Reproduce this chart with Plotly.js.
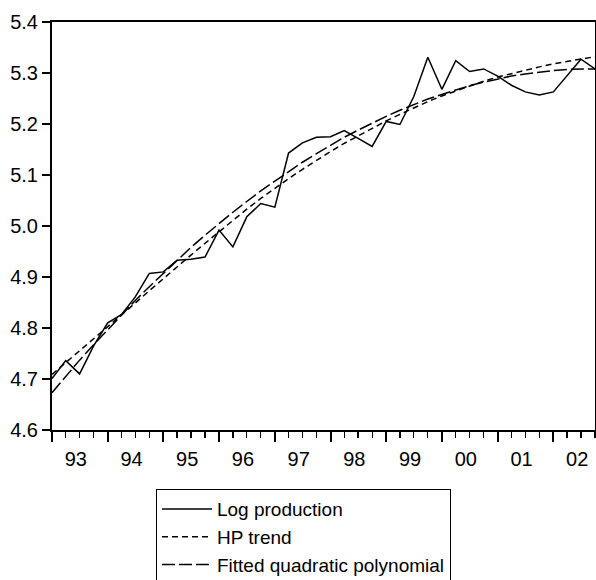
<!DOCTYPE html>
<html>
<head>
<meta charset="utf-8">
<script src="https://cdn.plot.ly/plotly-3.0.1.min.js"></script>
<style>html,body{margin:0;padding:0;background:#fff;}#chart{width:596px;height:580px;}</style>
</head>
<body>
<div id="chart"></div>
<script>
const quarters = [
  '1993Q1','1993Q2','1993Q3','1993Q4','1994Q1','1994Q2','1994Q3','1994Q4',
  '1995Q1','1995Q2','1995Q3','1995Q4','1996Q1','1996Q2','1996Q3','1996Q4',
  '1997Q1','1997Q2','1997Q3','1997Q4','1998Q1','1998Q2','1998Q3','1998Q4',
  '1999Q1','1999Q2','1999Q3','1999Q4','2000Q1','2000Q2','2000Q3','2000Q4',
  '2001Q1','2001Q2','2001Q3','2001Q4','2002Q1','2002Q2','2002Q3','2002Q4'
];
const logProduction = [
  4.701, 4.736, 4.710, 4.765, 4.810, 4.826, 4.861, 4.907,
  4.910, 4.933, 4.935, 4.939, 4.992, 4.959, 5.018, 5.044,
  5.037, 5.143, 5.163, 5.174, 5.175, 5.187, 5.172, 5.156,
  5.205, 5.199, 5.254, 5.331, 5.268, 5.324, 5.303, 5.308,
  5.294, 5.276, 5.263, 5.257, 5.263, 5.294, 5.327, 5.308
];
const hpTrend = [
  4.709, 4.732, 4.755, 4.778, 4.801, 4.825, 4.849, 4.873,
  4.897, 4.920, 4.943, 4.966, 4.989, 5.011, 5.033, 5.054,
  5.074, 5.093, 5.111, 5.129, 5.146, 5.162, 5.177, 5.192,
  5.206, 5.219, 5.232, 5.244, 5.255, 5.265, 5.275, 5.284,
  5.292, 5.299, 5.306, 5.312, 5.318, 5.323, 5.328, 5.332
];
const quadraticFit = [
  4.673, 4.705, 4.737, 4.767, 4.797, 4.826, 4.854, 4.881,
  4.907, 4.933, 4.958, 4.982, 5.005, 5.027, 5.048, 5.069,
  5.088, 5.107, 5.125, 5.142, 5.158, 5.174, 5.188, 5.202,
  5.215, 5.227, 5.238, 5.249, 5.258, 5.267, 5.275, 5.282,
  5.288, 5.294, 5.298, 5.302, 5.305, 5.307, 5.308, 5.308
];
const seriesNames = ['Log production', 'HP trend', 'Fitted quadratic polynomial'];
const yTicks = [4.6, 4.7, 4.8, 4.9, 5.0, 5.1, 5.2, 5.3, 5.4];

const dates = quarters.map(q => {
  const y = q.slice(0, 4), n = +q.slice(5);
  const m = (n - 1) * 3 + 1;
  return y + '-' + (m < 10 ? '0' + m : m) + '-01';
});

const FONT = 'Arial, "Liberation Sans", Helvetica, sans-serif';

const traces = [
  {x: dates, y: logProduction, name: seriesNames[0], type: 'scatter', mode: 'lines',
   line: {color: '#000', width: 1.5}},
  {x: dates, y: hpTrend, name: seriesNames[1], type: 'scatter', mode: 'lines',
   line: {color: '#000', width: 1.5, dash: '6px,4px'}},
  {x: dates, y: quadraticFit, name: seriesNames[2], type: 'scatter', mode: 'lines',
   line: {color: '#000', width: 1.5, dash: '13px,4px'}}
];

const layout = {
  width: 596, height: 580,
  margin: {l: 52, r: 1, t: 22, b: 150, pad: 0, autoexpand: false},
  paper_bgcolor: '#fff', plot_bgcolor: '#fff',
  font: {family: FONT, size: 20, color: '#000'},
  showlegend: true,
  legend: {
    x: 0.1915, y: -0.145, xanchor: 'left', yanchor: 'top',
    bordercolor: '#000', borderwidth: 1, bgcolor: '#fff',
    font: {family: FONT, size: 19, color: '#000'},
    itemwidth: 50, tracegroupgap: 0
  },
  xaxis: {
    type: 'date',
    range: [dates[0], dates[dates.length - 1]],
    tickmode: 'linear', tick0: dates[0], dtick: 'M12',
    tickformat: '%y', ticklabelmode: 'period', ticklabelshift: -4,
    ticks: 'outside', ticklen: 10, tickwidth: 2, tickcolor: '#000',
    minor: {dtick: 'M3', tick0: dates[0], ticks: 'outside', ticklen: 6, tickwidth: 1.3, tickcolor: '#000', showgrid: false},
    showline: true, linecolor: '#000', linewidth: 2, mirror: true,
    showgrid: false, zeroline: false,
    tickfont: {family: FONT, size: 20, color: '#000'}
  },
  yaxis: {
    range: [4.6, 5.4],
    tickmode: 'array', tickvals: yTicks, tickformat: '.1f',
    ticks: 'outside', ticklen: 8, tickwidth: 1.3, tickcolor: '#000',
    showline: true, linecolor: '#000', linewidth: 2, mirror: true,
    showgrid: false, zeroline: false,
    tickfont: {family: FONT, size: 20, color: '#000'}
  }
};

Plotly.newPlot('chart', traces, layout, {displayModeBar: false, staticPlot: true});
</script>
</body>
</html>
